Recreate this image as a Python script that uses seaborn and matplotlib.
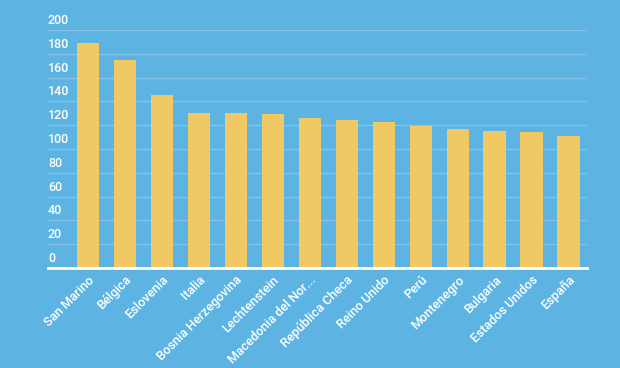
import matplotlib
matplotlib.use('Agg')
import matplotlib.pyplot as plt
import matplotlib.transforms as mtransforms
import seaborn as sns
import pandas as pd

countries = ['San Marino', 'Bélgica', 'Eslovenia', 'Italia', 'Bosnia Herzegovina',
             'Lechtenstein', 'Macedonia del Nor...', 'República Checa', 'Reino Unido',
             'Perú', 'Montenegro', 'Bulgaria', 'Estados Unidos', 'España']
values = [189, 175, 145, 130, 130, 129, 126, 124, 122.5, 119, 116.5, 115.5, 114, 111]
y_ticks = [0, 20, 40, 60, 80, 100, 120, 140, 160, 180, 200]

bg = '#5DB4E3'
bar_color = '#F0C965'

sns.set_theme(style='white')
plt.rcParams['font.family'] = ['Roboto', 'DejaVu Sans']

df = pd.DataFrame({'country': countries, 'value': values})

fig = plt.figure(figsize=(6.2, 3.68), dpi=100, facecolor=bg)
ax = fig.add_axes([48 / 620, 1 - 268 / 368, (587 - 48) / 620, (268 - 30) / 368])
ax.set_facecolor(bg)

sns.barplot(data=df, x='country', y='value', color=bar_color, width=0.6,
            saturation=1, linewidth=0, ax=ax, zorder=3)

ax.set_ylim(0, 200)
ax.set_xlim(-1.08, 13.5)
ax.set_yticks(y_ticks)
ax.set_yticklabels([])
ax.tick_params(axis='y', length=0)
ax.tick_params(axis='x', length=0, pad=4)
ax.grid(axis='y', color='#84C6EA', linewidth=0.9, zorder=0)
ax.set_axisbelow(True)
for s in ['top', 'left', 'right']:
    ax.spines[s].set_visible(False)
ax.spines['bottom'].set_color('white')
ax.spines['bottom'].set_linewidth(2)
ax.spines['bottom'].set_zorder(4)
ax.set_xlabel('')
ax.set_ylabel('')

ax.set_xticks(range(len(countries)))
ax.set_xticklabels(countries, rotation=45, ha='right', rotation_mode='anchor',
                   color='white', fontsize=9.2, fontweight='medium')

# y labels sit above their gridlines, inside the plot
trans = mtransforms.blended_transform_factory(ax.transAxes, ax.transData)
offset = mtransforms.ScaledTranslation(0, 3 / 100, fig.dpi_scale_trans)
for t in y_ticks:
    ax.text(0.0, t, str(t), transform=trans + offset, color='white', fontsize=9,
            ha='left', va='bottom', fontweight='medium')

fig.savefig('out.png', dpi=100, facecolor=bg)
